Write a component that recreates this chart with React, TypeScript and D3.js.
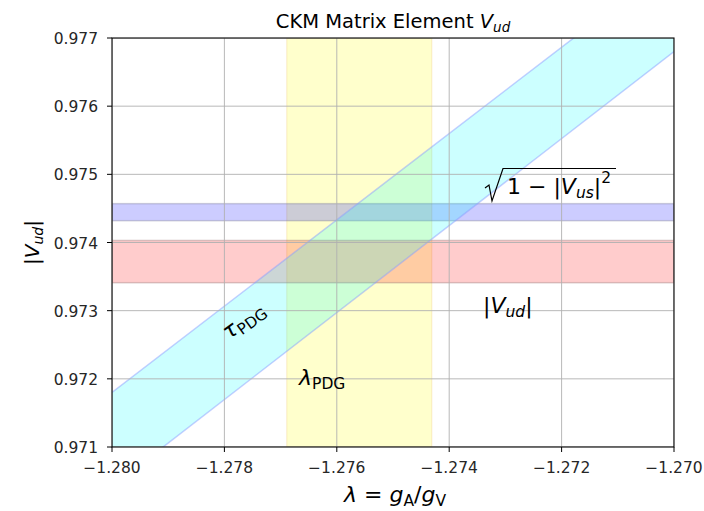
import React from "react";
import * as d3 from "d3";

const xTicks = [-1.28, -1.278, -1.276, -1.274, -1.272, -1.27];
const yTicks = [0.971, 0.972, 0.973, 0.974, 0.975, 0.976, 0.977];
const lambdaBand = [-1.27689, -1.27431];
const vusBand = [0.97432, 0.97457];
const vudBand = [0.97341, 0.97403];
const tauX = [-1.28, -1.275, -1.27];
const tauUpper = [0.9718, 0.974965, 0.97813];
const tauLower = [0.97042, 0.97361, 0.9768];

const W = 704, H = 511;
const L = 112, R = 674, T = 38, B = 447;
const FONT = "DejaVu Sans, sans-serif";

export default function App() {
  const x = d3.scaleLinear().domain([-1.28, -1.27]).range([L, R]);
  const y = d3.scaleLinear().domain([0.971, 0.977]).range([B, T]);
  const tauData = tauX.map((v, i) => ({ x: v, lo: tauLower[i], hi: tauUpper[i] }));
  const area = d3.area<any>().x(d => x(d.x)).y0(d => y(d.lo)).y1(d => y(d.hi));
  const lineHi = d3.line<any>().x(d => x(d.x)).y(d => y(d.hi));
  const lineLo = d3.line<any>().x(d => x(d.x)).y(d => y(d.lo));
  const fmt = (v: number) => (v < 0 ? "\u2212" : "") + Math.abs(v).toFixed(3);
  const MF = 22, SF = 15.5;

  return (
    <svg width={W} height={H} style={{ position: "absolute", left: 0, top: 0, background: "#fff" }} fontFamily={FONT}>
      <defs>
        <clipPath id="plot"><rect x={L} y={T} width={R - L} height={B - T} /></clipPath>
      </defs>
      <g clipPath="url(#plot)">
        <rect x={x(lambdaBand[0])} y={T} width={x(lambdaBand[1]) - x(lambdaBand[0])} height={B - T}
          fill="yellow" fillOpacity={0.2} stroke="rgb(240,200,120)" strokeOpacity={0.35} />
        <rect x={L} y={y(vudBand[1])} width={R - L} height={y(vudBand[0]) - y(vudBand[1])}
          fill="red" fillOpacity={0.2} stroke="rgb(150,110,110)" strokeOpacity={0.35} strokeWidth={1.5} />
        <rect x={L} y={y(vusBand[1])} width={R - L} height={y(vusBand[0]) - y(vusBand[1])}
          fill="blue" fillOpacity={0.2} stroke="rgb(120,120,150)" strokeOpacity={0.35} strokeWidth={1.5} />
        <path d={area(tauData) || ""} fill="cyan" fillOpacity={0.2} />
        <path d={lineHi(tauData) || ""} fill="none" stroke="rgb(140,160,255)" strokeOpacity={0.5} strokeWidth={1.5} />
        <path d={lineLo(tauData) || ""} fill="none" stroke="rgb(140,160,255)" strokeOpacity={0.5} strokeWidth={1.5} />
        {xTicks.map((t, i) => (
          <line key={"gx" + i} x1={x(t)} x2={x(t)} y1={T} y2={B} stroke="#b0b0b0" strokeWidth={0.9} />
        ))}
        {yTicks.map((t, i) => (
          <line key={"gy" + i} x1={L} x2={R} y1={y(t)} y2={y(t)} stroke="#b0b0b0" strokeWidth={0.9} />
        ))}
      </g>
      <rect x={L} y={T} width={R - L} height={B - T} fill="none" stroke="#000" strokeWidth={1.1} />
      {xTicks.map((t, i) => (
        <g key={"tx" + i}>
          <line x1={x(t)} x2={x(t)} y1={B} y2={B + 5} stroke="#000" strokeWidth={1} />
          <text x={x(t)} y={B + 26} textAnchor="middle" fontSize={15.5} fill="#262626">{fmt(t)}</text>
        </g>
      ))}
      {yTicks.map((t, i) => (
        <g key={"ty" + i}>
          <line x1={L - 5} x2={L} y1={y(t)} y2={y(t)} stroke="#000" strokeWidth={1} />
          <text x={L - 14} y={y(t) + 6} textAnchor="end" fontSize={15.5} fill="#262626">{fmt(t)}</text>
        </g>
      ))}
      <text x={(L + R) / 2} y={28} textAnchor="middle" fontSize={19.5} fill="#000">
        CKM Matrix Element <tspan fontStyle="italic">V</tspan><tspan fontStyle="italic" fontSize={13.5} dy={4}>ud</tspan>
      </text>
      <text x={395} y={502} textAnchor="middle" fontSize={MF} fill="#000">
        <tspan fontStyle="italic">λ</tspan> = <tspan fontStyle="italic">g</tspan><tspan fontSize={SF} dy={4}>A</tspan><tspan dy={-4}>/</tspan><tspan fontStyle="italic">g</tspan><tspan fontSize={SF} dy={4}>V</tspan>
      </text>
      <text transform={`translate(39, ${(T + B) / 2}) rotate(-90)`} textAnchor="middle" fontSize={20} fill="#000">
        |<tspan fontStyle="italic">V</tspan><tspan fontStyle="italic" fontSize={14} dy={4}>ud</tspan><tspan dy={-4}>|</tspan>
      </text>
      <path d="M485,188 L489,185 L492,201 L503,168.5 L616,168.5" fill="none" stroke="#000" strokeWidth={1.2} />
      <text x={507} y={194} fontSize={MF} fill="#000">
        1 − |<tspan fontStyle="italic">V</tspan><tspan fontStyle="italic" fontSize={SF} dy={4}>us</tspan><tspan dy={-4}>|</tspan><tspan fontSize={SF} dy={-11}>2</tspan>
      </text>
      <text x={483} y={313} fontSize={MF} fill="#000">
        |<tspan fontStyle="italic">V</tspan><tspan fontStyle="italic" fontSize={SF} dy={4}>ud</tspan><tspan dy={-4}>|</tspan>
      </text>
      <text transform="translate(229, 340) rotate(-36)" fontSize={MF} fill="#000">
        <tspan fontStyle="italic">τ</tspan><tspan fontSize={SF} dy={4}>PDG</tspan>
      </text>
      <text x={299} y={385} fontSize={MF} fill="#000">
        <tspan fontStyle="italic">λ</tspan><tspan fontSize={SF} dy={4}>PDG</tspan>
      </text>
    </svg>
  );
}
